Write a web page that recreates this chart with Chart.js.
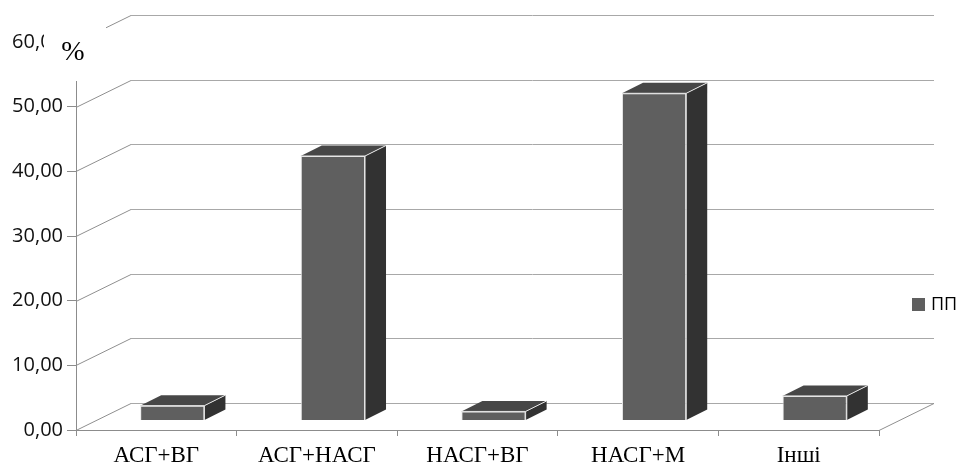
<!DOCTYPE html>
<html>
<head>
<meta charset="utf-8">
<script src="https://cdn.jsdelivr.net/npm/chart.js@4.4.1/dist/chart.umd.min.js"></script>
<style>
  html, body { margin: 0; padding: 0; background: #fff; }
  #wrap { width: 958px; height: 466px; }
</style>
</head>
<body>
<div id="wrap"><canvas id="c" width="958" height="466"></canvas></div>
<script>
// Categories and shares (%)
const categories = ['АСГ+ВГ', 'АСГ+НАСГ', 'НАСГ+ВГ', 'НАСГ+М', 'Інші'];
const shares = [2.3, 40.9, 1.4, 50.6, 3.8];
const seriesName = 'ПП';
const axisMin = 0;
const axisMax = 60;
const axisStep = 10;
const unitLabel = '%';

// Oblique projection: back wall offset, bar placement in depth, bar depth
const WALL = { dx: 55, dy: -28 };
const BAR_SHIFT = { dx: 16, dy: -9.5 };
const BAR_DEPTH = { dx: 21, dy: -10.5 };
const FACE = { front: '#5f5f5f', top: '#474747', side: '#323232', edge: '#e6e6e6' };

const sansFont = '"Open Sans", "Noto Sans", sans-serif';
const serifFont = '"Liberation Serif", "DejaVu Serif", serif';

function crisp(v) { return Math.round(v) + 0.5; }

const box3d = {
  id: 'box3d',
  beforeDatasetsDraw(chart) {
    const { ctx, chartArea: a, scales: { y } } = chart;
    ctx.save();
    ctx.lineWidth = 1;
    y.ticks.forEach(t => {
      const py = crisp(y.getPixelForValue(t.value));
      const by = crisp(py + WALL.dy);
      // side diagonal from the value axis to the back wall
      ctx.strokeStyle = '#8f8f8f';
      ctx.beginPath();
      ctx.moveTo(a.left, py);
      ctx.lineTo(a.left + WALL.dx, by);
      ctx.stroke();
      // gridline on the back wall
      ctx.strokeStyle = '#a8a8a8';
      ctx.beginPath();
      ctx.moveTo(a.left + WALL.dx, by);
      ctx.lineTo(a.right + WALL.dx, by);
      ctx.stroke();
    });
    // right edge of the floor
    const fy = crisp(y.getPixelForValue(axisMin));
    ctx.strokeStyle = '#8f8f8f';
    ctx.beginPath();
    ctx.moveTo(a.right, fy);
    ctx.lineTo(a.right + WALL.dx, crisp(fy + WALL.dy));
    ctx.stroke();
    ctx.restore();

    // front faces of the bars sit partway into the depth
    ctx.save();
    ctx.translate(BAR_SHIFT.dx, BAR_SHIFT.dy);
  },
  afterDatasetsDraw(chart) {
    const ctx = chart.ctx;
    ctx.restore();
    const meta = chart.getDatasetMeta(0);
    ctx.save();
    meta.data.forEach(bar => {
      const p = bar.getProps(['x', 'y', 'base', 'width'], true);
      const x0 = p.x - p.width / 2 + BAR_SHIFT.dx;
      const x1 = p.x + p.width / 2 + BAR_SHIFT.dx;
      const yt = p.y + BAR_SHIFT.dy;
      const yb = p.base + BAR_SHIFT.dy;
      const ddx = BAR_DEPTH.dx, ddy = BAR_DEPTH.dy;

      // top face
      ctx.beginPath();
      ctx.moveTo(x0, yt);
      ctx.lineTo(x1, yt);
      ctx.lineTo(x1 + ddx, yt + ddy);
      ctx.lineTo(x0 + ddx, yt + ddy);
      ctx.closePath();
      ctx.fillStyle = FACE.top;
      ctx.fill();

      // side face
      ctx.beginPath();
      ctx.moveTo(x1, yt);
      ctx.lineTo(x1 + ddx, yt + ddy);
      ctx.lineTo(x1 + ddx, yb + ddy);
      ctx.lineTo(x1, yb);
      ctx.closePath();
      ctx.fillStyle = FACE.side;
      ctx.fill();

      // light edges
      ctx.strokeStyle = FACE.edge;
      ctx.lineWidth = 1;
      ctx.beginPath();
      ctx.moveTo(x0, yt);
      ctx.lineTo(x1, yt);
      ctx.lineTo(x1 + ddx, yt + ddy);
      ctx.moveTo(x1, yt);
      ctx.lineTo(x1, yb);
      ctx.stroke();
    });
    ctx.restore();
  },
  afterDraw(chart) {
    const { ctx } = chart;
    // unit label on its own white box above the value axis
    ctx.save();
    ctx.fillStyle = '#ffffff';
    ctx.fillRect(44, 18, 62, 63);
    ctx.fillStyle = '#000';
    ctx.font = '28px ' + serifFont;
    ctx.textAlign = 'center';
    ctx.textBaseline = 'middle';
    ctx.fillText(unitLabel, 73, 53);

    // legend entry
    const ds = chart.data.datasets[0];
    ctx.fillStyle = ds.backgroundColor;
    ctx.fillRect(912, 298, 13, 13);
    ctx.fillStyle = '#000';
    ctx.font = '18px ' + sansFont;
    ctx.textAlign = 'left';
    ctx.textBaseline = 'middle';
    ctx.fillText(ds.label, 931, 305);
    ctx.restore();
  }
};

new Chart(document.getElementById('c'), {
  type: 'bar',
  data: {
    labels: categories,
    datasets: [{
      label: seriesName,
      data: shares,
      backgroundColor: FACE.front,
      borderColor: FACE.edge,
      borderWidth: { top: 1, left: 1, right: 1, bottom: 0 },
      categoryPercentage: 1,
      barPercentage: 0.4
    }]
  },
  options: {
    responsive: false,
    devicePixelRatio: 1,
    animation: false,
    layout: { padding: { top: 42, right: 79, left: 0, bottom: 0 } },
    plugins: {
      legend: { display: false },
      tooltip: { enabled: false }
    },
    scales: {
      x: {
        afterFit(scale) { scale.height = 36; },
        grid: { drawOnChartArea: false, drawTicks: true, tickLength: 6, color: '#8c8c8c', offset: true },
        border: { display: true, color: '#8c8c8c', width: 1 },
        ticks: {
          color: '#000',
          font: { family: serifFont, size: 23 },
          padding: 6,
          maxRotation: 0,
          autoSkip: false
        }
      },
      y: {
        min: axisMin,
        max: axisMax,
        afterFit(scale) { scale.width = 76; },
        grid: { drawOnChartArea: false, drawTicks: true, tickLength: 9, color: '#8c8c8c' },
        border: { display: true, color: '#8c8c8c', width: 1 },
        ticks: {
          stepSize: axisStep,
          color: '#111',
          padding: 4,
          font: { family: sansFont, size: 20 },
          callback: v => v.toFixed(2).replace('.', ',')
        }
      }
    }
  },
  plugins: [box3d]
});
</script>
</body>
</html>
